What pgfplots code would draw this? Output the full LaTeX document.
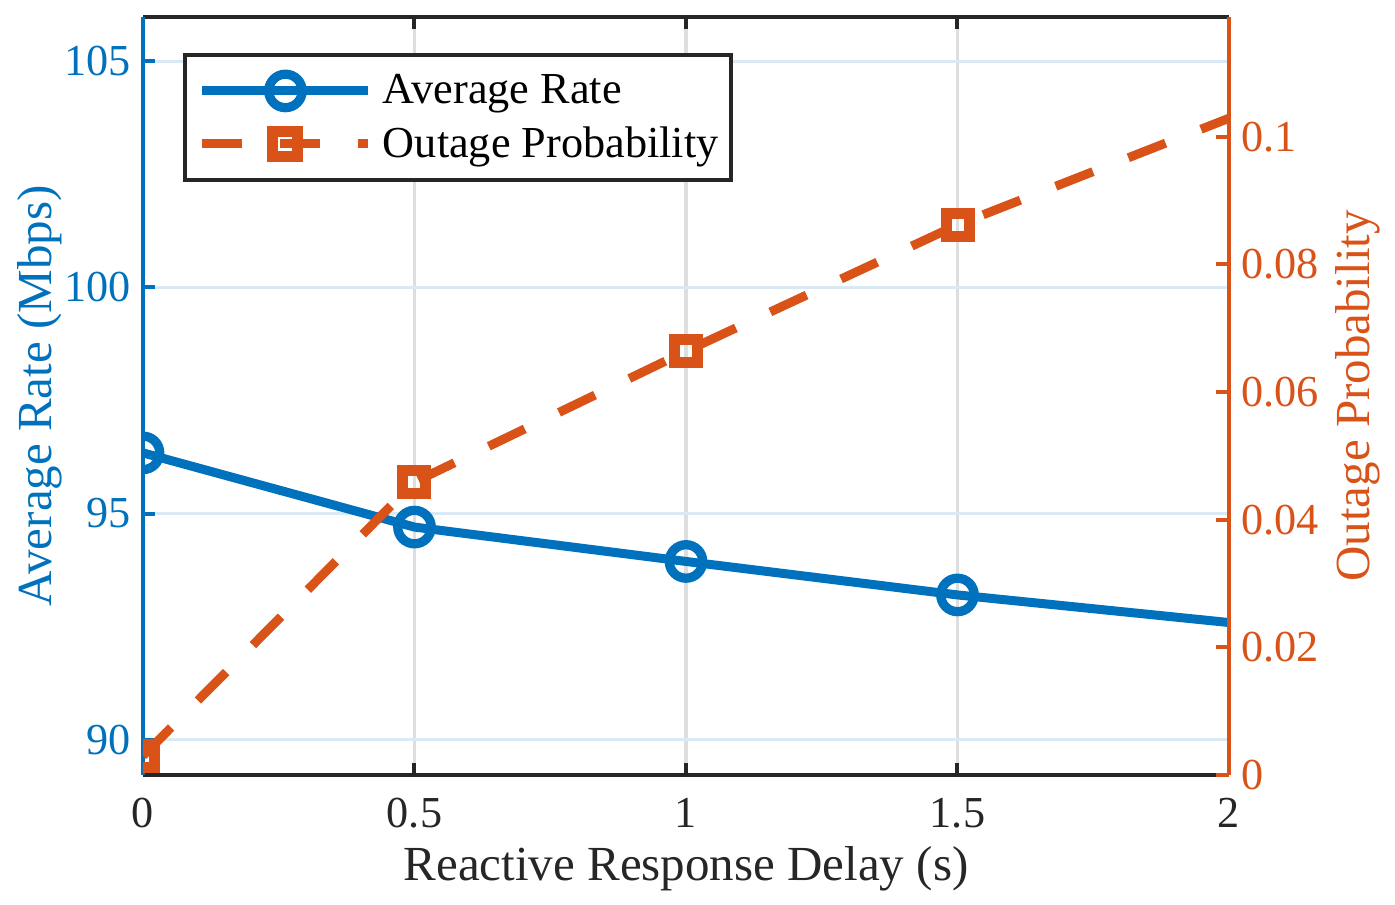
\documentclass[border=0pt]{standalone}
\usepackage{pgfplots}
\pgfplotsset{compat=1.18}
\usepackage{fontspec}
\setmainfont{Liberation Serif}
\definecolor{mblue}{RGB}{0,114,189}
\definecolor{morange}{RGB}{217,83,25}
\definecolor{mgray}{RGB}{38,38,38}
\definecolor{gridblue}{RGB}{217,234,245}
\definecolor{gridgray}{RGB}{222,222,222}
\newcommand{\tickfont}{\fontsize{17.7}{21}\selectfont}
\newcommand{\labelfont}{\fontsize{19.6}{23}\selectfont}

\pgfplotsset{
  dualbase/.style={
    scale only axis, width=434.4pt, height=303.3pt,
    xmin=0, xmax=2,
    tick align=inside,
    major tick length=5pt,
    /pgf/number format/assume math mode=true,
    ticklabel style={font=\tickfont},
    clip marker paths=true,
    scaled y ticks=false, scaled x ticks=false,
  },
  legend image code/.code={\draw[mark repeat=2,mark phase=2,#1] plot coordinates {(0pt,0pt) (33.2pt,0pt) (66.4pt,0pt)};},
}

\begin{document}
\begin{tikzpicture}
\useasboundingbox (-57.2pt,-52pt) rectangle (500.8pt,310pt);
\begin{axis}[dualbase,
  ymin=89.22, ymax=105.98,
  xtick={0,0.5,1,1.5,2}, xticklabels={0,0.5,1,1.5,2},
  ytick={90,95,100,105}, yticklabels={90,95,100,105},
  axis x line=box, axis y line*=left,
  x axis line style={-, draw=mgray, line width=1.6pt},
  y axis line style={-, draw=mblue, line width=1.6pt},
  x tick style={mgray, line width=1.6pt},
  y tick style={mblue, line width=1.6pt},
  xticklabel style={text=mgray, anchor=north, inner sep=0pt, yshift=-9.2pt},
  yticklabel style={text=mblue, anchor=east, inner sep=0pt, xshift=-4.6pt},
  xmajorgrids, ymajorgrids,
  x grid style={gridgray, line width=1.3pt},
  y grid style={gridblue, line width=1.2pt},
  xlabel={Reactive Response Delay (s)},
  ylabel={Average Rate (Mbps)},
  xlabel style={font=\labelfont, at={(axis description cs:0.5,0)}, anchor=base, yshift=-42pt, text=mgray},
  ylabel style={font=\labelfont, at={(axis description cs:-0.0847,0.5)}, anchor=base, text=mblue},
]
\addplot[mblue, line width=3.6pt, forget plot] coordinates {(0,96.34) (0.5,94.70) (1,93.94) (1.5,93.20) (2,92.59)};
\addplot[mblue, only marks, mark=o, mark size=6.7pt, mark options={line width=3.7pt}, forget plot] coordinates {(0,96.34) (0.5,94.70) (1,93.94) (1.5,93.20)};
\end{axis}
\begin{axis}[dualbase,
  ymin=0, ymax=0.1188,
  xtick=\empty,
  ytick={0,0.02,0.04,0.06,0.08,0.1}, yticklabels={0,0.02,0.04,0.06,0.08,0.1},
  axis y line*=right, axis x line=none,
  y axis line style={-, draw=morange, line width=1.6pt},
  y tick style={morange, line width=1.6pt},
  yticklabel style={text=morange, anchor=west, inner sep=0pt, xshift=4.6pt},
  ylabel={Outage Probability},
  ylabel style={font=\labelfont, at={(axis description cs:1.1298,0.5)}, anchor=base, text=morange},
  legend cell align=left,
  legend style={at={(axis description cs:0.0368,0.9516)}, anchor=north west,
    draw=mgray, line width=1.6pt, fill=white, text=black, font=\tickfont,
    inner xsep=5.2pt, inner ysep=5.6pt, row sep=3.7pt,
    nodes={inner xsep=0pt, inner ysep=2pt},
    /tikz/every odd column/.append style={column sep=4pt}},
]
\addlegendimage{mblue, line width=3.6pt, mark=o, mark size=6.7pt, mark options={line width=3.7pt}}
\addlegendentry{Average Rate}
\addlegendimage{morange, line width=3.6pt, dash pattern=on 16pt off 15.2pt, mark=square, mark size=5pt, mark options={solid, line width=4.4pt}}
\addlegendentry{Outage Probability\hspace{3.6pt}}
\addplot[morange, line width=3.6pt, dash pattern=on 16pt off 15.2pt, forget plot] coordinates {(0,0.003) (0.5,0.0459) (1,0.0664) (1.5,0.0862) (2,0.1029)};
\addplot[morange, only marks, mark=square, mark size=4.6pt, mark options={solid, line width=4.4pt}, forget plot] coordinates {(0,0.003) (0.5,0.0459) (1,0.0664) (1.5,0.0862)};
\end{axis}
\end{tikzpicture}
\end{document}
